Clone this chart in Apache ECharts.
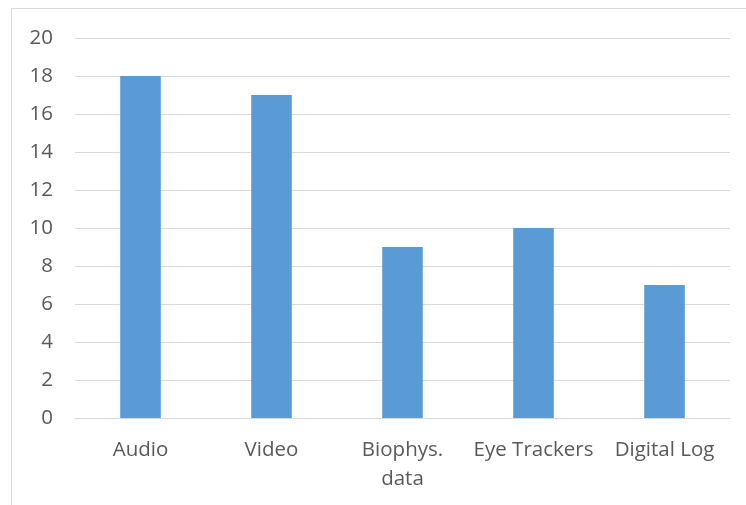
<!DOCTYPE html>
<html><head><meta charset="utf-8">
<script src="https://cdn.jsdelivr.net/npm/echarts@6/dist/echarts.min.js"></script>
<style>html,body{margin:0;padding:0;background:#fff}#c{width:746px;height:505px}</style>
</head><body><div id="c"></div>
<script>
const categories = ["Audio", "Video", "Biophys.\ndata", "Eye Trackers", "Digital Log"];
const values = [18, 17, 9, 10, 7];
const yTicks = {min: 0, max: 20, interval: 2};

const chart = echarts.init(document.getElementById('c'), null, {renderer: 'canvas'});
chart.setOption({
  animation: false,
  graphic: [{type: 'rect', shape: {x: 11.5, y: 8.5, width: 800, height: 600}, style: {fill: 'none', stroke: '#d9d9d9', lineWidth: 1}}],
  grid: {left: 75, right: 16, top: 38, bottom: 87},
  xAxis: {
    type: 'category', data: categories,
    axisLine: {lineStyle: {color: '#d9d9d9', width: 1}},
    axisTick: {show: false},
    axisLabel: {color: '#595959', fontSize: 20.5, fontFamily: 'Open Sans', margin: 18, lineHeight: 29, interval: 0}
  },
  yAxis: {
    type: 'value', min: yTicks.min, max: yTicks.max, interval: yTicks.interval,
    axisLine: {show: false}, axisTick: {show: false},
    axisLabel: {color: '#595959', fontSize: 20.5, fontFamily: 'Open Sans', margin: 22},
    splitLine: {lineStyle: {color: '#d9d9d9', width: 1}}
  },
  series: [{type: 'bar', data: values, barWidth: '31%', itemStyle: {color: '#5b9bd5'}}]
});
</script></body></html>
